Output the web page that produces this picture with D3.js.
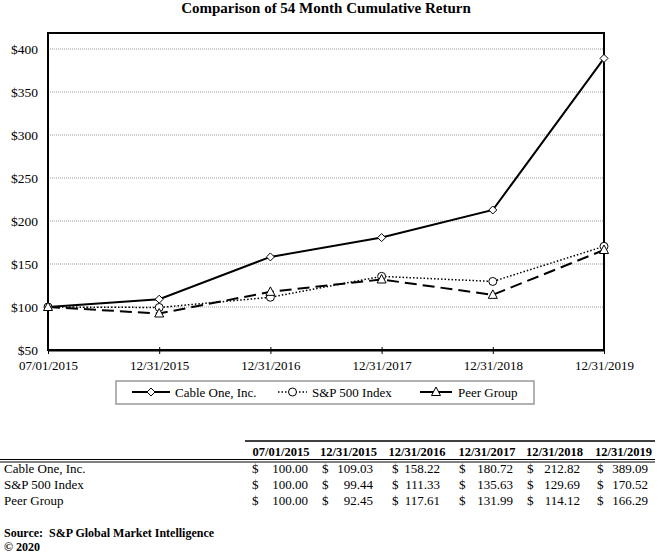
<!DOCTYPE html>
<html><head><meta charset="utf-8">
<script src="https://cdn.jsdelivr.net/npm/d3@7"></script>
<style>body{margin:0;background:#fff}svg{display:block}svg text{font-family:"Liberation Serif","Times New Roman",serif}</style>
</head><body>
<svg id="c" width="659" height="556" font-family="Liberation Serif"></svg>
<script>
const dates = ["07/01/2015","12/31/2015","12/31/2016","12/31/2017","12/31/2018","12/31/2019"];
const seriesNames = ["Cable One, Inc.","S&P 500 Index","Peer Group"];
const cableOne = [100.00,109.03,158.22,180.72,212.82,389.09];
const sp500 = [100.00,99.44,111.33,135.63,129.69,170.52];
const peerGroup = [100.00,92.45,117.61,131.99,114.12,166.29];
const yTicks = [50,100,150,200,250,300,350,400];

const svg = d3.select("#c");
const x = d3.scalePoint().domain(dates).range([48,604]);
const y = d3.scaleLinear().domain([50,400]).range([350,49]);
const topY = 33;

svg.append("text").attr("x",326).attr("y",13).attr("text-anchor","middle")
  .attr("font-weight","bold").attr("font-size",15).text("Comparison of 54 Month Cumulative Return");

svg.append("g").selectAll("line").data(yTicks.filter(d=>d>50)).join("line")
  .attr("x1",48).attr("x2",604).attr("y1",d=>y(d)).attr("y2",d=>y(d))
  .attr("stroke","#999").attr("stroke-dasharray","1,1").attr("stroke-width",1);

svg.append("g").selectAll("text").data(yTicks).join("text")
  .attr("x",38).attr("y",d=>y(d)+4.5).attr("text-anchor","end").attr("font-size",13.5)
  .text(d=>"$"+d);

svg.append("rect").attr("x",48).attr("y",topY).attr("width",556).attr("height",350-topY)
  .attr("fill","none").attr("stroke","#000").attr("stroke-width",2);

const xa = svg.append("g").attr("transform","translate(0,350)")
  .call(d3.axisBottom(x).tickSize(5).tickSizeOuter(0));
xa.attr("font-family","Liberation Serif");
xa.select(".domain").attr("stroke-width",2);
xa.selectAll(".tick line").attr("y1",-3).attr("y2",4);
xa.selectAll(".tick text").attr("font-size",13).attr("fill","#000").attr("dy","0.95em");

const styles = [
  {data:cableOne, dash:null, w:2, marker:"diamond"},
  {data:sp500, dash:"1.5,2", w:1.5, marker:"circle"},
  {data:peerGroup, dash:"12,6", w:2, marker:"triangle"}
];
const line = d3.line().x((d,i)=>x(dates[i])).y(d=>y(d));

function marker(g, type, cx, cy){
  if(type==="diamond"){
    g.append("path").attr("d",`M${cx},${cy-4}L${cx+4},${cy}L${cx},${cy+4}L${cx-4},${cy}Z`)
     .attr("fill","#fff").attr("stroke","#000").attr("stroke-width",1);
  } else if(type==="circle"){
    g.append("circle").attr("cx",cx).attr("cy",cy).attr("r",4)
     .attr("fill","#fff").attr("stroke","#000").attr("stroke-width",1);
  } else {
    g.append("path").attr("d",`M${cx},${cy-5}L${cx+4.5},${cy+3.5}L${cx-4.5},${cy+3.5}Z`)
     .attr("fill","#fff").attr("stroke","#000").attr("stroke-width",1);
  }
}

styles.slice().reverse().forEach(s=>{
  svg.append("path").datum(s.data).attr("d",line).attr("fill","none")
    .attr("stroke","#000").attr("stroke-width",s.w).attr("stroke-dasharray",s.dash);
});
styles.forEach(s=>{
  const g = svg.append("g");
  s.data.forEach((v,i)=>marker(g,s.marker,x(dates[i]),y(v)));
});

svg.append("rect").attr("x",116).attr("y",381).attr("width",418).attr("height",23)
  .attr("fill","#fff").attr("stroke","#999").attr("stroke-width",1.5);
const leg = [
  {x1:132,x2:170,tx:175},
  {x1:278,x2:307,tx:312},
  {x1:420,x2:452,tx:458}
];
leg.forEach((l,i)=>{
  const s = styles[i];
  svg.append("line").attr("x1",l.x1).attr("x2",l.x2).attr("y1",392).attr("y2",392)
    .attr("stroke","#000").attr("stroke-width",s.w).attr("stroke-dasharray",i===1?"1.5,2":null);
  const g = svg.append("g");
  marker(g,s.marker,(l.x1+l.x2)/2,392);
  svg.append("text").attr("x",l.tx).attr("y",397).attr("font-size",13).text(seriesNames[i]);
});

const colRight = [308,373,440,513,580,648];
const colDollar = [252,322,392,459,527,597];
svg.append("line").attr("x1",245).attr("x2",655).attr("y1",441).attr("y2",441).attr("stroke","#000").attr("stroke-width",1.5);
svg.append("g").selectAll("text").data(dates).join("text")
  .attr("x",(d,i)=>(colDollar[i]+colRight[i])/2+1).attr("y",456).attr("text-anchor","middle")
  .attr("font-weight","bold").attr("font-size",12.5).text(d=>d);
svg.append("line").attr("x1",0).attr("x2",655).attr("y1",459.5).attr("y2",459.5).attr("stroke","#000").attr("stroke-width",1);
svg.append("line").attr("x1",0).attr("x2",655).attr("y1",462).attr("y2",462).attr("stroke","#000").attr("stroke-width",1);
const rows = [cableOne, sp500, peerGroup];
rows.forEach((r,ri)=>{
  const yy = 473 + ri*16;
  svg.append("text").attr("x",4).attr("y",yy).attr("font-size",13).text(seriesNames[ri]);
  r.forEach((v,i)=>{
    svg.append("text").attr("x",colDollar[i]).attr("y",yy).attr("font-size",13).text("$");
    svg.append("text").attr("x",colRight[i]).attr("y",yy).attr("text-anchor","end").attr("font-size",13).text(v.toFixed(2));
  });
});
svg.append("text").attr("x",4).attr("y",537).attr("font-weight","bold").attr("font-size",12).attr("xml:space","preserve").text("Source:  S&P Global Market Intelligence");
svg.append("text").attr("x",4).attr("y",551).attr("font-weight","bold").attr("font-size",12).text("© 2020");
</script>
</body></html>
